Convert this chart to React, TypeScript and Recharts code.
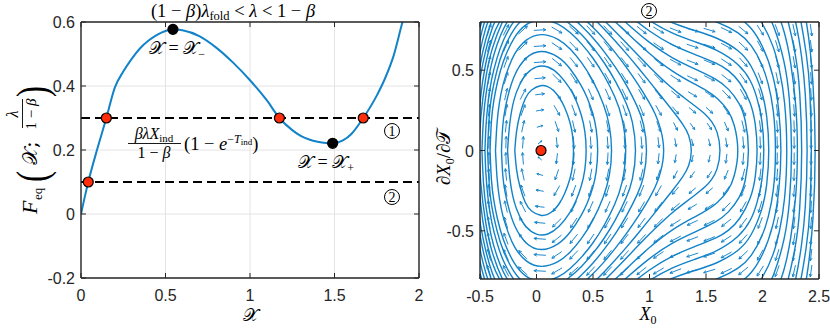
import React from 'react';
import { ComposedChart, Line, Scatter, XAxis, YAxis, CartesianGrid, ReferenceLine } from 'recharts';

const BLUE = '#1283c9';
const RED = '#ff2d0a';
const AXIS = '#262626';
const SANS = "'Liberation Sans', Arial, Helvetica, sans-serif";
const SERIF = "'Liberation Serif', 'DejaVu Serif', 'Times New Roman', serif";
const MATH = "'DejaVu Serif', 'DejaVu Sans', 'Liberation Serif', serif";

// ---------- left panel data ----------
const curveX = [0, 0.02, 0.043, 0.1, 0.15, 0.2, 0.25, 0.3, 0.35, 0.4, 0.45, 0.5, 0.544, 0.6, 0.7, 0.8, 0.9, 1.0, 1.1, 1.174, 1.25, 1.3, 1.35, 1.4, 1.45, 1.489, 1.55, 1.6, 1.67, 1.75, 1.8, 1.85, 1.9, 1.93];
const curveF = [0, 0.048, 0.1, 0.21, 0.3, 0.395, 0.445, 0.485, 0.518, 0.542, 0.56, 0.572, 0.577, 0.574, 0.556, 0.52, 0.473, 0.418, 0.355, 0.3, 0.262, 0.244, 0.233, 0.226, 0.222, 0.221, 0.23, 0.25, 0.3, 0.37, 0.425, 0.495, 0.595, 0.65];
const levelLines = [0.3, 0.1];
const rootX = [0.043, 0.15, 1.174, 1.67];
const rootY = [0.1, 0.3, 0.3, 0.3];
const extremaX = [0.544, 1.489];
const extremaY = [0.577, 0.221];
const leftXTicks = [0, 0.5, 1, 1.5, 2];
const leftYTicks = [-0.2, 0, 0.2, 0.4, 0.6];

// ---------- right panel data ----------
const rightXTicks = [-0.5, 0, 0.5, 1, 1.5, 2, 2.5];
const rightYTicks = [-0.5, 0, 0.5];
const fixedPointX = [0.04];
const fixedPointY = [0];
// quiver grid: columns, rows, and the read vertical acceleration per column
const fieldX = [-0.42, -0.27, -0.12, 0.03, 0.18, 0.33, 0.48, 0.63, 0.78, 0.93, 1.08, 1.23, 1.38, 1.53, 1.68, 1.83, 1.98, 2.13, 2.28, 2.43];
const fieldAccel = [1.68, 1.06, 0.48, 0.03, -0.31, -0.48, -0.566, -0.566, -0.506, -0.426, -0.314, -0.204, -0.148, -0.156, -0.252, -0.432, -0.84, -1.5, -2.4, -3.84];
const fieldY = [-0.75, -0.65, -0.55, -0.45, -0.35, -0.25, -0.15, -0.05, 0.05, 0.15, 0.25, 0.35, 0.45, 0.55, 0.65, 0.75];

// streamlines: upper halves (X0, dX0/dT); the portrait is symmetric in dX0/dT
const orbitA = [[-0.192, 0], [-0.18, 0.118], [-0.15, 0.224], [-0.1, 0.332], [-0.05, 0.379], [0.04, 0.41], [0.1, 0.4], [0.15, 0.377], [0.2, 0.335], [0.25, 0.272], [0.3, 0.173], [0.32, 0.1], [0.331, 0]];
const orbitB = [[-0.256, 0], [-0.24, 0.173], [-0.2, 0.329], [-0.15, 0.41], [-0.1, 0.477], [0, 0.53], [0.1, 0.527], [0.2, 0.48], [0.3, 0.385], [0.35, 0.316], [0.4, 0.219], [0.43, 0.126], [0.444, 0]];
const orbitC = [[-0.31, 0], [-0.3, 0.167], [-0.28, 0.257], [-0.25, 0.352], [-0.2, 0.471], [-0.1, 0.585], [0.04, 0.632], [0.2, 0.586], [0.3, 0.512], [0.4, 0.402], [0.45, 0.329], [0.5, 0.232], [0.53, 0.141], [0.547, 0]];
const orbitD = [[-0.363, 0], [-0.35, 0.184], [-0.33, 0.297], [-0.3, 0.41], [-0.25, 0.514], [-0.2, 0.602], [-0.1, 0.694], [0.04, 0.735], [0.2, 0.696], [0.3, 0.634], [0.4, 0.55], [0.5, 0.44], [0.6, 0.283], [0.65, 0.155], [0.671, 0]];
const orbitE = [[-0.411, 0], [-0.4, 0.2], [-0.38, 0.307], [-0.35, 0.417], [-0.3, 0.555], [-0.2, 0.709], [-0.1, 0.789], [0.04, 0.825], [0.2, 0.79], [0.3, 0.735], [0.4, 0.665], [0.5, 0.578], [0.6, 0.469], [0.7, 0.329], [0.76, 0.214], [0.804, 0]];
const orbitE2 = [[-0.433, 0], [-0.42, 0.219], [-0.4, 0.346], [-0.35, 0.504], [-0.3, 0.623], [-0.2, 0.763], [-0.1, 0.838], [0.04, 0.872], [0.15, 0.857], [0.3, 0.789], [0.4, 0.722], [0.5, 0.643], [0.6, 0.548], [0.7, 0.434], [0.8, 0.29], [0.85, 0.192], [0.889, 0]];
const orbitF = [[-0.456, 0], [-0.45, 0.141], [-0.43, 0.303], [-0.4, 0.447], [-0.35, 0.578], [-0.3, 0.684], [-0.2, 0.814], [-0.1, 0.884], [0.04, 0.917], [0.15, 0.902], [0.3, 0.838], [0.4, 0.775], [0.5, 0.703], [0.6, 0.616], [0.7, 0.518], [0.8, 0.405], [0.9, 0.265], [0.95, 0.173], [0.985, 0]];
const orbitF2 = [[-0.483, 0], [-0.47, 0.219], [-0.45, 0.346], [-0.4, 0.548], [-0.35, 0.659], [-0.3, 0.754], [-0.2, 0.873], [0.04, 0.97], [0.3, 0.896], [0.5, 0.771], [0.6, 0.693], [0.7, 0.607], [0.8, 0.514], [0.9, 0.412], [1.0, 0.297], [1.05, 0.232], [1.1, 0.141], [1.138, 0]];
const orbitG = [[-0.507, 0], [-0.5, 0.19], [-0.45, 0.465], [-0.4, 0.629], [-0.3, 0.815], [-0.2, 0.926], [0.04, 1.018], [0.2, 0.99], [0.4, 0.893], [0.6, 0.759], [0.8, 0.6], [0.9, 0.516], [1.0, 0.429], [1.1, 0.341], [1.2, 0.253], [1.3, 0.161], [1.35, 0.1], [1.38, 0]];
const orbitG2 = [[-0.524, 0], [-0.5, 0.346], [-0.45, 0.548], [-0.4, 0.693], [-0.3, 0.865], [0.04, 1.058], [0.4, 0.939], [0.6, 0.812], [0.8, 0.666], [1.0, 0.518], [1.2, 0.385], [1.3, 0.332], [1.4, 0.279], [1.5, 0.224], [1.55, 0.182], [1.6, 0.126], [1.635, 0]];
const orbitH = [[-0.542, 0], [-0.52, 0.33], [-0.5, 0.46], [-0.45, 0.626], [-0.4, 0.756], [-0.3, 0.917], [0.04, 1.1], [0.3, 1.04], [0.6, 0.867], [0.8, 0.732], [1.0, 0.6], [1.2, 0.49], [1.4, 0.412], [1.5, 0.377], [1.6, 0.329], [1.7, 0.249], [1.75, 0.173], [1.797, 0]];
const orbitH2 = [[-0.56, 0], [-0.54, 0.316], [-0.5, 0.548], [-0.45, 0.693], [-0.4, 0.812], [-0.3, 0.963], [0.04, 1.14], [0.6, 0.917], [0.8, 0.79], [1.0, 0.669], [1.2, 0.573], [1.4, 0.508], [1.6, 0.443], [1.7, 0.387], [1.8, 0.293], [1.85, 0.2], [1.888, 0]];
const orbitI = [[-0.58, 0], [-0.55, 0.387], [-0.5, 0.632], [-0.45, 0.762], [-0.4, 0.872], [0.1, 1.18], [0.6, 0.97], [0.8, 0.851], [1.0, 0.74], [1.2, 0.654], [1.4, 0.598], [1.6, 0.544], [1.7, 0.5], [1.8, 0.431], [1.9, 0.297], [1.94, 0.167], [1.958, 0]];
const orbitI2 = [[-0.6, 0], [-0.58, 0.316], [-0.55, 0.5], [-0.5, 0.707], [-0.45, 0.825], [-0.4, 0.927], [0.2, 1.2], [0.7, 0.963], [0.8, 0.908], [1.0, 0.805], [1.2, 0.727], [1.4, 0.677], [1.6, 0.629], [1.8, 0.535], [1.9, 0.434], [1.95, 0.335], [2.0, 0.19], [2.017, 0]];
const orbitJ = [[-0.62, 0], [-0.6, 0.316], [-0.55, 0.59], [-0.5, 0.775], [-0.45, 0.883], [0.2, 1.243], [0.8, 0.961], [1.0, 0.865], [1.2, 0.792], [1.4, 0.747], [1.6, 0.704], [1.8, 0.621], [1.9, 0.537], [2.0, 0.369], [2.04, 0.224], [2.063, 0]];
const orbitJ2 = [[-0.642, 0], [-0.6, 0.5], [-0.55, 0.707], [-0.5, 0.866], [0.2, 1.3], [1.0, 0.948], [1.2, 0.882], [1.4, 0.841], [1.6, 0.804], [1.8, 0.732], [1.9, 0.662], [2.0, 0.535], [2.05, 0.422], [2.1, 0.265], [2.122, 0]];
const orbitK = [[-0.667, 0], [-0.6, 0.632], [-0.55, 0.806], [-0.5, 0.95], [0.2, 1.358], [0.9, 1.063], [1.0, 1.024], [1.2, 0.963], [1.4, 0.926], [1.6, 0.892], [1.8, 0.828], [1.9, 0.767], [2.0, 0.66], [2.1, 0.469], [2.15, 0.245], [2.169, 0]];
const orbitK2 = [[1.2, 1.062], [1.4, 1.029], [1.6, 0.998], [1.8, 0.941], [1.9, 0.888], [2.0, 0.797], [2.1, 0.648], [2.15, 0.51], [2.2, 0.316], [2.222, 0]];
const orbitL = [[1.2, 1.152], [1.4, 1.12], [1.6, 1.094], [1.8, 1.042], [1.9, 0.994], [2.0, 0.914], [2.1, 0.787], [2.2, 0.548], [2.24, 0.341], [2.265, 0]];
const orbitL2 = [[1.5, 1.212], [1.8, 1.152], [2.0, 1.037], [2.1, 0.927], [2.2, 0.735], [2.25, 0.557], [2.3, 0.283], [2.313, 0]];
const orbitM = [[1.6, 1.302], [1.8, 1.26], [2.0, 1.156], [2.1, 1.058], [2.2, 0.894], [2.3, 0.583], [2.33, 0.392], [2.355, 0]];
const orbitM2 = [[1.8, 1.373], [2.0, 1.279], [2.2, 1.049], [2.3, 0.8], [2.35, 0.574], [2.38, 0.379], [2.402, 0]];
const orbitN = [[1.8, 1.478], [2.0, 1.39], [2.2, 1.183], [2.3, 0.97], [2.4, 0.566], [2.42, 0.39], [2.438, 0]];
const orbitO = [[2.0, 1.495], [2.2, 1.3], [2.3, 1.11], [2.4, 0.787], [2.45, 0.447], [2.474, 0]];

const orbitTops = [orbitA, orbitB, orbitC, orbitD, orbitE, orbitE2, orbitF, orbitF2, orbitG, orbitG2, orbitH, orbitH2, orbitI, orbitI2, orbitJ, orbitJ2, orbitK, orbitK2, orbitL, orbitL2, orbitM, orbitM2, orbitN, orbitO];

// ---------- derived tables ----------
const curveData = curveX.map((x, i) => ({ x, y: curveF[i] }));
const rootData = rootX.map((x, i) => ({ x, y: rootY[i] }));
const extremaData = extremaX.map((x, i) => ({ x, y: extremaY[i] }));
const fixedData = fixedPointX.map((x, i) => ({ x, y: fixedPointY[i] }));
const orbitData = orbitTops.map((top) => {
  const upper = top.map(([x, y]) => ({ x, y }));
  const lower = top.slice(0, -1).reverse().map(([x, y]) => ({ x, y: -y }));
  return upper.concat(lower);
});
const fieldData: { x: number; y: number; u: number; v: number }[] = [];
fieldX.forEach((x, i) => {
  fieldY.forEach((y) => {
    fieldData.push({ x, y, u: y, v: fieldAccel[i] });
  });
});

// pixels per data unit of right panel (for arrow orientation only)
const PXX = 113;
const PXY = 160.5;

const ArrowShape = (props: any) => {
  const { cx, cy, payload } = props;
  if (cx == null || cy == null) return null;
  const sx = payload.u * PXX;
  const sy = -payload.v * PXY;
  const m = Math.hypot(sx, sy) || 1;
  const dx = sx / m;
  const dy = sy / m;
  const len = 4 + 8 * Math.min(1, m / 60);
  const x1 = cx - (dx * len) / 2;
  const y1 = cy - (dy * len) / 2;
  const x2 = cx + (dx * len) / 2;
  const y2 = cy + (dy * len) / 2;
  const h = Math.min(3.2, len * 0.35);
  const ang = Math.atan2(dy, dx);
  const a1 = ang + Math.PI - 0.45;
  const a2 = ang + Math.PI + 0.45;
  const d = `M${x1},${y1}L${x2},${y2}M${x2 + h * Math.cos(a1)},${y2 + h * Math.sin(a1)}L${x2},${y2}L${x2 + h * Math.cos(a2)},${y2 + h * Math.sin(a2)}`;
  return <path d={d} stroke={BLUE} strokeWidth={0.95} fill="none" />;
};

const Marker = (color: string, r: number) => (props: any) => {
  const { cx, cy } = props;
  if (cx == null || cy == null) return null;
  return <circle cx={cx} cy={cy} r={r} fill={color} stroke="#000" strokeWidth={1.2} />;
};

const fmt = (v: number) => String(v);

const BottomTick = (props: any) => {
  const { x, y, payload } = props;
  return (
    <g>
      <line x1={x} y1={y} x2={x} y2={y - 5} stroke={AXIS} strokeWidth={1} />
      <text x={x} y={y + 23} textAnchor="middle" fontFamily={SANS} fontSize={16} fill={AXIS}>{fmt(payload.value)}</text>
    </g>
  );
};
const TopTick = (props: any) => {
  const { x, y } = props;
  return <line x1={x} y1={y} x2={x} y2={y + 5} stroke={AXIS} strokeWidth={1} />;
};
const LeftTick = (props: any) => {
  const { x, y, payload } = props;
  return (
    <g>
      <line x1={x} y1={y} x2={x + 5} y2={y} stroke={AXIS} strokeWidth={1} />
      <text x={x - 6} y={y + 6} textAnchor="end" fontFamily={SANS} fontSize={16} fill={AXIS}>{fmt(payload.value)}</text>
    </g>
  );
};
const RightTick = (props: any) => {
  const { x, y } = props;
  return <line x1={x} y1={y} x2={x - 5} y2={y} stroke={AXIS} strokeWidth={1} />;
};

const axisLineStyle = { stroke: AXIS, strokeWidth: 1.4 };

function LeftPanel() {
  return (
    <ComposedChart width={430} height={328} margin={{ top: 20, right: 6, bottom: 20, left: 0 }}>
      <CartesianGrid stroke="#e4e4e4" strokeWidth={1} />
      <XAxis dataKey="x" type="number" domain={[0, 2]} ticks={leftXTicks} allowDataOverflow height={30} tickSize={0} tickMargin={0} tick={<BottomTick />} axisLine={axisLineStyle} interval={0} />
      <XAxis xAxisId="top" orientation="top" dataKey="x" type="number" domain={[0, 2]} ticks={leftXTicks} allowDataOverflow height={2} tickSize={0} tickMargin={0} tick={<TopTick />} axisLine={axisLineStyle} interval={0} />
      <YAxis type="number" domain={[-0.2, 0.6]} ticks={leftYTicks} allowDataOverflow width={81} tickSize={0} tickMargin={0} tick={<LeftTick />} axisLine={axisLineStyle} interval={0} />
      <YAxis yAxisId="right" orientation="right" type="number" domain={[-0.2, 0.6]} ticks={leftYTicks} allowDataOverflow width={5} tickSize={0} tickMargin={0} tick={<RightTick />} axisLine={axisLineStyle} interval={0} />
      {levelLines.map((v) => (
        <ReferenceLine key={v} y={v} stroke="#000" strokeWidth={2} strokeDasharray="9 5" />
      ))}
      <Line data={curveData} dataKey="y" type="monotone" stroke={BLUE} strokeWidth={2} dot={false} isAnimationActive={false} />
      <Scatter data={rootData} dataKey="y" shape={Marker(RED, 5)} isAnimationActive={false} />
      <Scatter data={extremaData} dataKey="y" shape={Marker('#000', 5)} isAnimationActive={false} />
    </ComposedChart>
  );
}

function RightPanel() {
  return (
    <ComposedChart width={400} height={328} margin={{ top: 20, right: 6, bottom: 19, left: 0 }}>
      <XAxis dataKey="x" type="number" domain={[-0.5, 2.5]} ticks={rightXTicks} allowDataOverflow height={30} tickSize={0} tickMargin={0} tick={<BottomTick />} axisLine={axisLineStyle} interval={0} />
      <XAxis xAxisId="top" orientation="top" dataKey="x" type="number" domain={[-0.5, 2.5]} ticks={rightXTicks} allowDataOverflow height={2} tickSize={0} tickMargin={0} tick={<TopTick />} axisLine={axisLineStyle} interval={0} />
      <YAxis type="number" domain={[-0.8, 0.8]} ticks={rightYTicks} allowDataOverflow width={50} tickSize={0} tickMargin={0} tick={<LeftTick />} axisLine={axisLineStyle} interval={0} />
      <YAxis yAxisId="right" orientation="right" type="number" domain={[-0.8, 0.8]} ticks={rightYTicks} allowDataOverflow width={5} tickSize={0} tickMargin={0} tick={<RightTick />} axisLine={axisLineStyle} interval={0} />
      {orbitData.map((d, i) => (
        <Line key={i} data={d} dataKey="y" type="basis" stroke={BLUE} strokeWidth={1.4} dot={false} isAnimationActive={false} />
      ))}
      <Scatter data={fieldData} dataKey="y" shape={ArrowShape} isAnimationActive={false} />
      <Scatter data={fixedData} dataKey="y" shape={Marker(RED, 5)} isAnimationActive={false} />
    </ComposedChart>
  );
}

function Circled({ cx, cy, label }: { cx: number; cy: number; label: string }) {
  return (
    <g>
      <circle cx={cx} cy={cy} r={7.5} fill="#fff" stroke="#000" strokeWidth={1} />
      <text x={cx} y={cy + 5} textAnchor="middle" fontFamily={SERIF} fontSize={14} fill="#000">{label}</text>
    </g>
  );
}

function Overlay() {
  return (
    <svg width={830} height={328} style={{ position: 'absolute', left: 0, top: 0, pointerEvents: 'none' }}>
      {/* title */}
      <text x={233} y={17} textAnchor="middle" fontFamily={SERIF} fontSize={18.5} fill="#000">
        (1 − <tspan fontStyle="italic">β</tspan>)<tspan fontStyle="italic">λ</tspan>
        <tspan fontSize={12.5} dy={3}>fold</tspan>
        <tspan dy={-3}> &lt; </tspan>
        <tspan fontStyle="italic">λ</tspan> &lt; 1 − <tspan fontStyle="italic">β</tspan>
      </text>
      {/* X = X- */}
      <text x={177} y={54} textAnchor="middle" fontFamily={SERIF} fontSize={18} fill="#000">
        <tspan fontFamily={MATH}>𝒳</tspan> = <tspan fontFamily={MATH}>𝒳</tspan>
        <tspan fontSize={12} dy={4}>−</tspan>
      </text>
      {/* X = X+ */}
      <text x={326} y={168} textAnchor="middle" fontFamily={SERIF} fontSize={18} fill="#000">
        <tspan fontFamily={MATH}>𝒳</tspan> = <tspan fontFamily={MATH}>𝒳</tspan>
        <tspan fontSize={12} dy={4}>+</tspan>
      </text>
      {/* fraction annotation */}
      <text x={154} y={139} textAnchor="middle" fontFamily={SERIF} fontSize={16} fill="#000">
        <tspan fontStyle="italic">βλX</tspan>
        <tspan fontSize={11} dy={3}>ind</tspan>
      </text>
      <line x1={128} x2={181} y1={143.5} y2={143.5} stroke="#000" strokeWidth={0.9} />
      <text x={154} y={158} textAnchor="middle" fontFamily={SERIF} fontSize={16} fill="#000">
        1 − <tspan fontStyle="italic">β</tspan>
      </text>
      <text x={184} y={150} fontFamily={SERIF} fontSize={18.5} fill="#000">
        (1 − <tspan fontStyle="italic">e</tspan>
        <tspan fontSize={12} dy={-7}>−</tspan>
        <tspan fontSize={12} fontStyle="italic">T</tspan>
        <tspan fontSize={9} dy={2}>ind</tspan>
        <tspan fontSize={18.5} dy={5}>)</tspan>
      </text>
      <Circled cx={392} cy={131} label="1" />
      <Circled cx={392} cy={197} label="2" />
      <Circled cx={649} cy={11} label="2" />
      {/* left x label */}
      <text x={250} y={321} textAnchor="middle" fontFamily={MATH} fontSize={18} fill="#000">𝒳</text>
      {/* left y label */}
      <g transform="translate(37,152) rotate(-90)">
        <text x={-62} y={0} fontFamily={SERIF} fontSize={22} fontStyle="italic" fill="#000">F</text>
        <text x={-48} y={5} fontFamily={SERIF} fontSize={13} fill="#000">eq</text>
        <text transform="translate(-30,10) scale(0.75,1)" x={0} y={0} fontFamily={SERIF} fontSize={44} fill="#000">(</text>
        <text x={-13} y={0} fontFamily={MATH} fontSize={20} fill="#000">𝒳;</text>
        <text x={38} y={-19} textAnchor="middle" fontFamily={SERIF} fontSize={16} fontStyle="italic" fill="#000">λ</text>
        <line x1={24} x2={53} y1={-14.5} y2={-14.5} stroke="#000" strokeWidth={0.9} />
        <text x={38} y={-1} textAnchor="middle" fontFamily={SERIF} fontSize={15} fill="#000">
          1 − <tspan fontStyle="italic">β</tspan>
        </text>
        <text transform="translate(55,10) scale(0.75,1)" x={0} y={0} fontFamily={SERIF} fontSize={44} fill="#000">)</text>
      </g>
      {/* right x label */}
      <text x={648} y={320} textAnchor="middle" fontFamily={SERIF} fontSize={18} fill="#000">
        <tspan fontStyle="italic">X</tspan>
        <tspan fontSize={12} dy={4}>0</tspan>
      </text>
      {/* right y label */}
      <g transform="translate(450,157) rotate(-90)">
        <text x={0} y={0} textAnchor="middle" fontFamily={SERIF} fontSize={19} fill="#000">
          ∂<tspan fontStyle="italic">X</tspan>
          <tspan fontSize={12} dy={4}>0</tspan>
          <tspan dy={-4}>/∂</tspan>
          <tspan fontFamily={MATH}>𝒯</tspan>
        </text>
      </g>
    </svg>
  );
}

export default function App() {
  return (
    <div style={{ position: 'absolute', left: 0, top: 0, width: 830, height: 328, background: '#fff', overflow: 'hidden' }}>
      <div style={{ position: 'absolute', left: 0, top: 0 }}>
        <LeftPanel />
      </div>
      <div style={{ position: 'absolute', left: 430, top: 0 }}>
        <RightPanel />
      </div>
      <Overlay />
    </div>
  );
}
